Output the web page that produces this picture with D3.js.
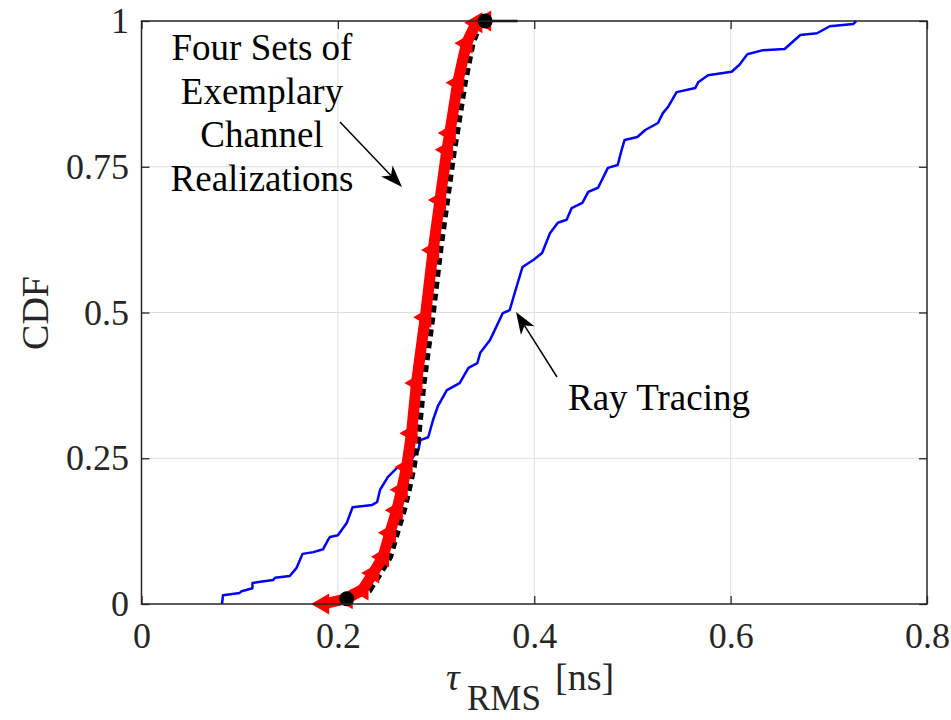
<!DOCTYPE html>
<html>
<head>
<meta charset="utf-8">
<script src="https://cdn.jsdelivr.net/npm/d3@7"></script>
<style>
  body { margin: 0; background: #fff; }
  text { font-family: "Liberation Serif", "Times New Roman", serif; }
</style>
</head>
<body>
<div id="container"></div>
<script>
// CDF du délai RMS : ray tracing vs quatre jeux de réalisations

// ray tracing (courbe bleue en escalier)
const rtX = [0.082, 0.083, 0.100, 0.102, 0.113, 0.113, 0.121, 0.134, 0.136, 0.151, 0.158, 0.164, 0.175, 0.185,
  0.190, 0.192, 0.200, 0.209, 0.215, 0.235, 0.240, 0.243, 0.251, 0.260, 0.273, 0.282, 0.284, 0.292, 0.297,
  0.302, 0.311, 0.324, 0.333, 0.342, 0.345, 0.355, 0.368, 0.375, 0.380, 0.388, 0.399, 0.408, 0.416, 0.424,
  0.433, 0.438, 0.449, 0.455, 0.465, 0.475, 0.485, 0.489, 0.492, 0.505, 0.513, 0.526, 0.531, 0.536, 0.545,
  0.564, 0.567, 0.577, 0.601, 0.609, 0.617, 0.633, 0.655, 0.671, 0.688, 0.701, 0.725, 0.728];
const rtY = [0.000, 0.015, 0.019, 0.022, 0.027, 0.036, 0.038, 0.041, 0.045, 0.048, 0.062, 0.086, 0.089, 0.094,
  0.110, 0.115, 0.118, 0.139, 0.166, 0.170, 0.175, 0.196, 0.218, 0.233, 0.244, 0.264, 0.281, 0.286, 0.316,
  0.340, 0.367, 0.379, 0.405, 0.413, 0.431, 0.453, 0.499, 0.504, 0.533, 0.578, 0.590, 0.602, 0.636, 0.654,
  0.659, 0.679, 0.688, 0.707, 0.714, 0.748, 0.753, 0.779, 0.796, 0.801, 0.813, 0.825, 0.842, 0.852, 0.878,
  0.885, 0.895, 0.907, 0.913, 0.925, 0.943, 0.950, 0.952, 0.976, 0.979, 0.991, 0.995, 1.000];

// réalisations (rouge, triangles)
const redX = [0.185, 0.209, 0.225, 0.236, 0.246, 0.253, 0.260, 0.265, 0.270, 0.275, 0.280, 0.289, 0.297,
  0.304, 0.311, 0.314, 0.322, 0.331, 0.341, 0.350];
const redY = [0.000, 0.009, 0.024, 0.053, 0.081, 0.122, 0.161, 0.196, 0.235, 0.293, 0.379, 0.492, 0.607,
  0.693, 0.779, 0.808, 0.894, 0.962, 0.997, 1.000];

// réalisations (noir, pointillé)
const blackX = [0.209, 0.232, 0.243, 0.253, 0.260, 0.267, 0.272, 0.277, 0.282, 0.287, 0.296, 0.304, 0.311,
  0.318, 0.321, 0.329, 0.337, 0.345, 0.350, 0.383];
const blackY = [0.009, 0.024, 0.053, 0.081, 0.122, 0.161, 0.196, 0.235, 0.293, 0.379, 0.492, 0.607, 0.693,
  0.779, 0.808, 0.894, 0.962, 0.997, 1.000, 1.000];

const xTicks = [0, 0.2, 0.4, 0.6, 0.8];
const yTicks = [0, 0.25, 0.5, 0.75, 1];

const width = 951;
const height = 720;
const mLeft = 141.5, mRight = 927, mTop = 21, mBottom = 604;

const x = d3.scaleLinear().domain([0, 0.8]).range([mLeft, mRight]);
const y = d3.scaleLinear().domain([0, 1]).range([mBottom, mTop]);

const svg = d3.create("svg")
    .attr("width", width)
    .attr("height", height);

svg.append("rect").attr("width", width).attr("height", height).attr("fill", "#fff");

// grille
const grid = svg.append("g").attr("stroke", "#dedede").attr("stroke-width", 1);
grid.selectAll(".gx").data(xTicks.slice(1, -1)).join("line")
    .attr("x1", d => x(d)).attr("x2", d => x(d))
    .attr("y1", mTop).attr("y2", mBottom);
grid.selectAll(".gy").data(yTicks.slice(1, -1)).join("line")
    .attr("y1", d => y(d)).attr("y2", d => y(d))
    .attr("x1", mLeft).attr("x2", mRight);

// axes (ticks vers l'intérieur)
function styleAxis(g) {
    g.select(".domain").remove();
    g.selectAll(".tick line").attr("stroke", "#262626").attr("stroke-width", 1.3);
    g.selectAll(".tick text").attr("fill", "#262626").attr("font-size", 36)
        .attr("font-family", "Liberation Serif, serif");
}

svg.append("g").attr("transform", `translate(0,${mBottom})`)
    .call(d3.axisBottom(x).tickValues(xTicks).tickFormat(d3.format("")).tickSize(-8).tickPadding(18))
    .call(styleAxis);
svg.append("g").attr("transform", `translate(0,${mTop})`)
    .call(d3.axisTop(x).tickValues(xTicks).tickFormat("").tickSize(-8))
    .call(styleAxis);
svg.append("g").attr("transform", `translate(${mLeft},0)`)
    .call(d3.axisLeft(y).tickValues(yTicks).tickFormat(d3.format("")).tickSize(-8).tickPadding(12.5))
    .call(styleAxis);
svg.append("g").attr("transform", `translate(${mRight},0)`)
    .call(d3.axisRight(y).tickValues(yTicks).tickFormat("").tickSize(-8))
    .call(styleAxis);

const plot = svg.append("g");

const line = d3.line().x(d => x(d[0])).y(d => y(d[1]));

// ray tracing
plot.append("path")
    .datum(d3.zip(rtX, rtY))
    .attr("fill", "none")
    .attr("stroke", "#0000ff")
    .attr("stroke-width", 2.5)
    .attr("stroke-linejoin", "round")
    .attr("d", line);

// noir derrière
plot.append("path")
    .datum(d3.zip(blackX, blackY).slice(0, -1))
    .attr("fill", "none")
    .attr("stroke", "#000")
    .attr("stroke-width", 6.5)
    .attr("stroke-dasharray", "7,5")
    .attr("d", line);
plot.append("path")
    .datum(d3.zip(blackX, blackY).slice(-2))
    .attr("fill", "none")
    .attr("stroke", "#000")
    .attr("stroke-width", 2.5)
    .attr("d", line);

// bande rouge
plot.append("path")
    .datum(d3.zip(redX, redY))
    .attr("fill", "none")
    .attr("stroke", "#ff0000")
    .attr("stroke-width", 11)
    .attr("stroke-linejoin", "round")
    .attr("d", line);

const tri = d3.symbol().type(d3.symbolTriangle).size(190);
plot.selectAll(".tri").data(d3.zip(redX, redY)).join("path")
    .attr("fill", "#ff0000")
    .attr("d", tri)
    .attr("transform", d => `translate(${x(d[0])},${y(d[1])}) rotate(-90)`);

// cercles noirs aux extrémités
plot.selectAll(".dot").data([[blackX[0], blackY[0]], [redX[redX.length - 1], 1]]).join("circle")
    .attr("cx", d => x(d[0]))
    .attr("cy", d => y(d[1]))
    .attr("r", 7.5)
    .attr("fill", "#000");

// cadre
svg.append("rect")
    .attr("x", mLeft).attr("y", mTop)
    .attr("width", mRight - mLeft).attr("height", mBottom - mTop)
    .attr("fill", "none")
    .attr("stroke", "#262626")
    .attr("stroke-width", 1.5);

// titres d'axes
svg.append("text")
    .attr("transform", "translate(48,313) rotate(-90)")
    .attr("text-anchor", "middle")
    .attr("font-size", 38)
    .attr("fill", "#262626")
    .text("CDF");

const xl = svg.append("text").attr("font-size", 38).attr("fill", "#262626");
xl.append("tspan").attr("x", 446).attr("y", 690).attr("font-style", "italic").text("τ");
xl.append("tspan").attr("x", 467).attr("y", 710).attr("font-size", 35).text("RMS");
xl.append("tspan").attr("x", 555).attr("y", 690).text("[ns]");

// annotations
const ann = ["Four Sets of", "Exemplary", "Channel", "Realizations"];
svg.append("g").selectAll("text").data(ann).join("text")
    .attr("x", 262)
    .attr("y", (d, i) => 60 + i * 43.5)
    .attr("text-anchor", "middle")
    .attr("font-size", 37)
    .attr("fill", "#000")
    .text(d => d);

svg.append("text")
    .attr("x", 568).attr("y", 410)
    .attr("font-size", 37)
    .attr("fill", "#000")
    .text("Ray Tracing");

function arrow(x1, y1, x2, y2) {
    const a = Math.atan2(y2 - y1, x2 - x1);
    const len = 22, w = 8, back = 16;
    const bx = x2 - back * Math.cos(a), by = y2 - back * Math.sin(a);
    svg.append("line")
        .attr("x1", x1).attr("y1", y1).attr("x2", bx).attr("y2", by)
        .attr("stroke", "#000").attr("stroke-width", 1.5);
    const p = d3.path();
    p.moveTo(x2, y2);
    p.lineTo(x2 - len * Math.cos(a) + w * Math.sin(a), y2 - len * Math.sin(a) - w * Math.cos(a));
    p.lineTo(bx, by);
    p.lineTo(x2 - len * Math.cos(a) - w * Math.sin(a), y2 - len * Math.sin(a) + w * Math.cos(a));
    p.closePath();
    svg.append("path").attr("d", p.toString()).attr("fill", "#000");
}
arrow(340, 122, 402, 187);
arrow(557, 377, 516, 312);

d3.select("#container").node().append(svg.node());
</script>
</body>
</html>
